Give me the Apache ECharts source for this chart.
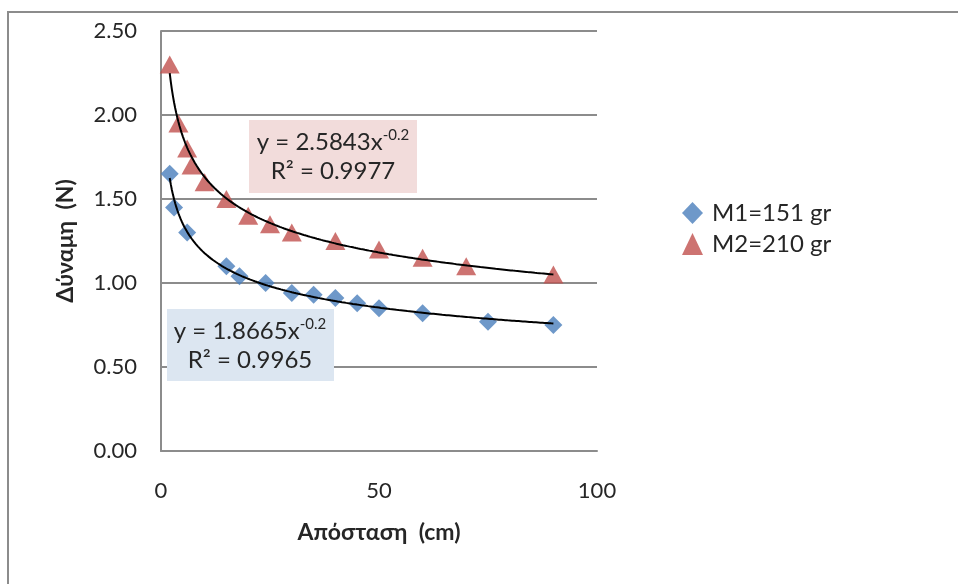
<!DOCTYPE html>
<html>
<head>
<meta charset="utf-8">
<script src="https://cdn.jsdelivr.net/npm/echarts@6/dist/echarts.min.js"></script>
<style>
html,body{margin:0;padding:0;background:#fff;}
#chart{width:958px;height:584px;}
</style>
</head>
<body>
<div id="chart"></div>
<script>
// ---- data ----
const seriesNames = ['M1=151 gr', 'M2=210 gr'];
const xM1 = [2, 3, 6, 15, 18, 24, 30, 35, 40, 45, 50, 60, 75, 90];
const yM1 = [1.65, 1.45, 1.30, 1.10, 1.04, 1.00, 0.94, 0.93, 0.91, 0.88, 0.85, 0.82, 0.77, 0.75];
const xM2 = [2, 4, 6, 7, 10, 15, 20, 25, 30, 40, 50, 60, 70, 90];
const yM2 = [2.30, 1.95, 1.80, 1.70, 1.60, 1.50, 1.40, 1.35, 1.30, 1.25, 1.20, 1.15, 1.10, 1.05];
// power trendlines shown in the chart: y = a * x^b
const trendA = [1.8665, 2.5843];
const trendB = -0.2;
const trendR2 = ['0.9965', '0.9977'];
const xTicks = [0, 50, 100];
const yTicks = [0, 0.5, 1, 1.5, 2, 2.5];
const xTitle = 'Απόσταση  (cm)';
const yTitle = 'Δύναμη  (N)';

const FONT = 'Lato, "Open Sans", sans-serif';
const TXT = '#262626';

function pairs(xs, ys) { return xs.map((x, i) => [x, ys[i]]); }
function trend(a, xs) {
  const lo = Math.min(...xs), hi = Math.max(...xs);
  const pts = [];
  for (let x = lo; x <= hi + 1e-9; x += 0.25) pts.push([x, a * Math.pow(x, trendB)]);
  return pts;
}
function eqText(i) {
  return '{m|y = ' + trendA[i].toFixed(4) + 'x}{s|' + trendB + '}\n{m|R² = ' + trendR2[i] + '}';
}
const eqRich = {
  m: { fontSize: 24, fontFamily: FONT, fill: TXT, lineHeight: 29 },
  s: { fontSize: 15, fontFamily: FONT, fill: TXT, lineHeight: 29, verticalAlign: 'top', padding: [0, 0, 9, 0] }
};

const chart = echarts.init(document.getElementById('chart'));
const option = {
  animation: false,
  textStyle: { fontFamily: FONT },
  grid: { left: 161, top: 31, right: 361, bottom: 133, containLabel: false },
  xAxis: {
    type: 'value', min: xTicks[0], max: xTicks[xTicks.length - 1], interval: 50,
    axisLine: { show: true, lineStyle: { color: '#8c8c8c', width: 2 } },
    axisTick: { show: false },
    splitLine: { show: false },
    axisLabel: { color: TXT, fontSize: 22, margin: 29, fontFamily: FONT },
    name: xTitle, nameLocation: 'middle', nameGap: 70,
    nameTextStyle: { color: TXT, fontSize: 23, fontWeight: 'bold', fontFamily: FONT }
  },
  yAxis: {
    type: 'value', min: yTicks[0], max: yTicks[yTicks.length - 1], interval: 0.5,
    axisLine: { show: true, lineStyle: { color: '#8c8c8c', width: 2 } },
    axisTick: { show: false },
    splitLine: { show: true, lineStyle: { color: '#8c8c8c', width: 2 } },
    axisLabel: { color: TXT, fontSize: 22, margin: 24, fontFamily: FONT,
      formatter: v => v.toFixed(2) },
    name: yTitle, nameLocation: 'middle', nameGap: 84, nameRotate: 90,
    nameTextStyle: { color: TXT, fontSize: 23, fontWeight: 'bold', fontFamily: FONT }
  },
  legend: {
    orient: 'vertical', left: 677, top: 196, itemGap: 7,
    itemWidth: 21, itemHeight: 22,
    data: [
      { name: seriesNames[0], icon: 'diamond' },
      { name: seriesNames[1], icon: 'triangle' }
    ],
    textStyle: { color: TXT, fontSize: 24, fontFamily: FONT, padding: [0, 0, 0, 4] }
  },
  series: [
    { name: seriesNames[0], type: 'scatter', symbol: 'diamond', symbolSize: [18, 18],
      itemStyle: { color: '#4a7ebb' }, data: pairs(xM1, yM1), z: 3 },
    { name: seriesNames[1], type: 'scatter', symbol: 'triangle', symbolSize: [20, 18],
      itemStyle: { color: '#c0504d' }, data: pairs(xM2, yM2), z: 3 },
    { name: 'trend1', type: 'line', data: trend(trendA[0], xM1), showSymbol: false, smooth: false,
      lineStyle: { color: '#000', width: 2 }, z: 4, silent: true },
    { name: 'trend2', type: 'line', data: trend(trendA[1], xM2), showSymbol: false, smooth: false,
      lineStyle: { color: '#000', width: 2 }, z: 4, silent: true }
  ],
  graphic: [
    { type: 'rect', shape: { x: 8, y: 12, width: 1000, height: 620 },
      style: { fill: 'none', stroke: '#8c8c8c', lineWidth: 2 }, z: 100 },
    { type: 'rect', shape: { x: 249, y: 120, width: 168, height: 73 },
      style: { fill: '#f2dcdb' }, z: 100 },
    { type: 'text', x: 333, y: 157, z: 101,
      style: { text: eqText(1), align: 'center', verticalAlign: 'middle', rich: eqRich } },
    { type: 'rect', shape: { x: 167, y: 309, width: 167, height: 72 },
      style: { fill: '#dce6f1' }, z: 100 },
    { type: 'text', x: 250, y: 346, z: 101,
      style: { text: eqText(0), align: 'center', verticalAlign: 'middle', rich: eqRich } }
  ]
};
chart.setOption(option);
</script>
</body>
</html>
